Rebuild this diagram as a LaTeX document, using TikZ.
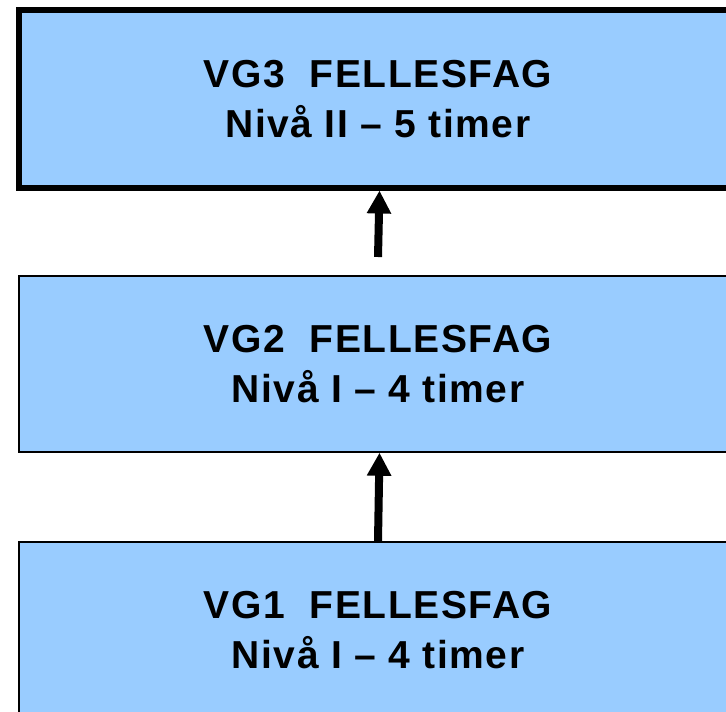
\documentclass[tikz,border=0pt]{standalone}
\usepackage{fontspec}
\setmainfont{Liberation Sans}
\newfontfamily\boxfont{Liberation Sans}[LetterSpace=4]
\usetikzlibrary{arrows.meta}
\definecolor{boxblue}{HTML}{99CCFF}
\tikzset{
  levelbox/.style={draw=black, fill=boxblue, rectangle, inner sep=0pt,
    minimum width=718pt, align=center,
    font=\boxfont\fontsize{39}{50}\selectfont\bfseries},
  uparrow/.style={draw=black, line width=8pt,
    -{Triangle[length=23pt,width=23pt]}},
}
\begin{document}
\begin{tikzpicture}[x=1pt,y=1pt]
  \useasboundingbox (0,0) rectangle (726,-712);
  \clip (0,0) rectangle (726,-712);
  \node[levelbox, line width=5.5pt, minimum width=718.5pt, minimum height=178pt] (vg3) at (378,-98.75) {VG3 \ FELLESFAG\\Nivå II – 5 timer};
  \node[levelbox, line width=2pt, minimum height=175.7pt] (vg2) at (378,-363.85) {VG2 \ FELLESFAG\\Nivå I – 4 timer};
  \node[levelbox, line width=2pt, minimum height=175.7pt] (vg1) at (378,-629.85) {VG1 \ FELLESFAG\\Nivå I – 4 timer};
  \coordinate (a1s) at (378,-257);
  \draw[uparrow] (a1s) -- ([xshift=1.5pt]vg3.south);
  \draw[uparrow] (vg1.north) -- ([xshift=1.5pt]vg2.south);
\end{tikzpicture}
\end{document}
